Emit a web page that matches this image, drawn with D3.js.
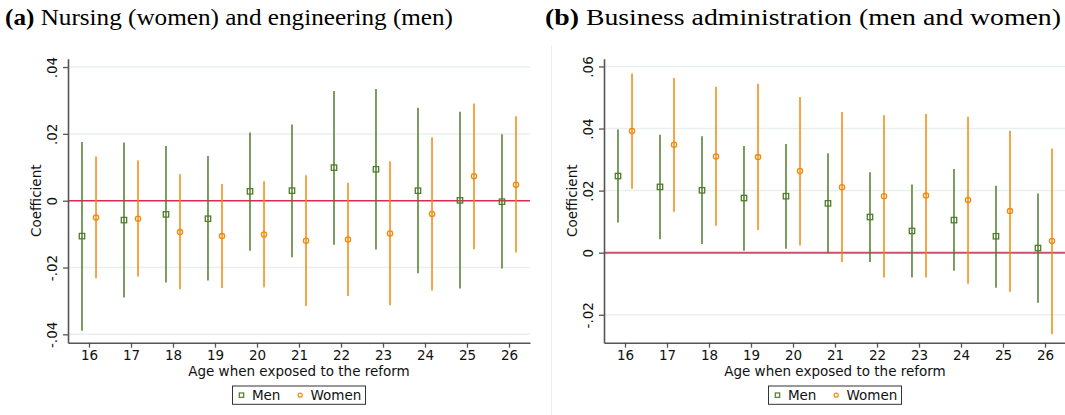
<!DOCTYPE html>
<html>
<head>
<meta charset="utf-8">
<script src="https://cdn.jsdelivr.net/npm/d3@7"></script>
<style>
  html, body { margin: 0; padding: 0; background: #fff; }
  svg { display: block; }
</style>
</head>
<body>
<svg id="chart" width="1065" height="415"></svg>
<script>
// Ages at exposure to the reform (x categories)
const ages = [16, 17, 18, 19, 20, 21, 22, 23, 24, 25, 26];

// Panel (a): nursing (women) and engineering (men)
const aMenCoef   = [-0.0106, -0.0058, -0.0041, -0.0054, 0.0028, 0.0030, 0.0099, 0.0094, 0.0030, 0.0001, -0.0003];
const aMenLo     = [-0.0389, -0.0290, -0.0245, -0.0239, -0.0150, -0.0169, -0.0132, -0.0146, -0.0217, -0.0263, -0.0203];
const aMenHi     = [0.0176, 0.0174, 0.0164, 0.0134, 0.0204, 0.0228, 0.0328, 0.0334, 0.0278, 0.0266, 0.0199];
const aWomenCoef = [-0.0050, -0.0054, -0.0094, -0.0106, -0.0101, -0.0120, -0.0116, -0.0098, -0.0040, 0.0073, 0.0048];
const aWomenLo   = [-0.0232, -0.0227, -0.0265, -0.0261, -0.0259, -0.0315, -0.0285, -0.0313, -0.0269, -0.0145, -0.0155];
const aWomenHi   = [0.0132, 0.0120, 0.0079, 0.0050, 0.0058, 0.0076, 0.0054, 0.0118, 0.0190, 0.0291, 0.0253];

// Panel (b): business administration (men and women)
const bMenCoef   = [0.0247, 0.0212, 0.0201, 0.0176, 0.0182, 0.0159, 0.0115, 0.0070, 0.0105, 0.0053, 0.0015];
const bMenLo     = [0.0097, 0.0043, 0.0028, 0.0006, 0.0013, -0.0002, -0.0030, -0.0080, -0.0058, -0.0113, -0.0161];
const bMenHi     = [0.0397, 0.0380, 0.0375, 0.0344, 0.0350, 0.0320, 0.0259, 0.0220, 0.0270, 0.0216, 0.0191];
const bWomenCoef = [0.0392, 0.0348, 0.0310, 0.0308, 0.0263, 0.0211, 0.0182, 0.0184, 0.0170, 0.0134, 0.0038];
const bWomenLo   = [0.0206, 0.0132, 0.0087, 0.0073, 0.0023, -0.0030, -0.0080, -0.0080, -0.0100, -0.0126, -0.0263];
const bWomenHi   = [0.0577, 0.0563, 0.0535, 0.0544, 0.0502, 0.0453, 0.0443, 0.0447, 0.0438, 0.0393, 0.0336];

// Y tick values and labels
const aYTicks = [-0.04, -0.02, 0, 0.02, 0.04];
const aYTickLabels = ["-.04", "-.02", "0", ".02", ".04"];
const bYTicks = [-0.02, 0, 0.02, 0.04, 0.06];
const bYTickLabels = ["-.02", "0", ".02", ".04", ".06"];

const seriesNames = ["Men", "Women"];

const MEN_COLOR = "#4f7d2c";
const WOMEN_COLOR = "#f0890c";
const SANS = "'DejaVu Sans', sans-serif";

const svg = d3.select("#chart");

// faint border of the second graph region
svg.append("line")
  .attr("x1", 551.5).attr("x2", 551.5).attr("y1", 45).attr("y2", 415)
  .attr("stroke", "#eeeeee").attr("stroke-width", 1);

function rows(coef, lo, hi) {
  return ages.map((a, i) => ({ age: a, coef: coef[i], lo: lo[i], hi: hi[i] }));
}

function drawPanel(opt) {
  const g = svg.append("g");
  const x = d3.scaleLinear().domain([15.5, 26.5]).range([opt.left, opt.right]);
  const y = d3.scaleLinear().domain(opt.yDomain).range([342.7, 58.7]);
  const off = 0.167;

  // title
  const t = g.append("text")
    .attr("x", opt.titleX).attr("y", 25)
    .attr("font-family", "'Liberation Serif', 'Times New Roman', serif")
    .attr("font-size", 24).attr("fill", "#000")
    .attr("textLength", opt.titleWidth).attr("lengthAdjust", "spacingAndGlyphs");
  t.append("tspan").attr("font-weight", "bold").text(opt.titleTag);
  t.append("tspan").text(" " + opt.title);

  // horizontal gridlines
  g.append("g").selectAll("line").data(opt.yTicks).join("line")
    .attr("x1", opt.left).attr("x2", opt.right)
    .attr("y1", d => y(d)).attr("y2", d => y(d))
    .attr("stroke", "#e9efef").attr("stroke-width", 1.5);

  // reference line at zero
  g.append("line")
    .attr("x1", opt.left).attr("x2", opt.right)
    .attr("y1", y(0)).attr("y2", y(0))
    .attr("stroke", opt.zeroColor).attr("stroke-width", opt.zeroWidth);

  // y axis
  const yAxis = g.append("g")
    .attr("transform", `translate(${opt.left},0)`)
    .call(d3.axisLeft(y).tickValues(opt.yTicks).tickSize(5).tickSizeOuter(0)
      .tickFormat((d, i) => opt.yTickLabels[i]));
  yAxis.select(".domain").attr("stroke", "#555").attr("stroke-width", 1.6);
  yAxis.selectAll(".tick line").attr("stroke", "#555").attr("stroke-width", 1.3);
  yAxis.selectAll(".tick text")
    .attr("x", 0).attr("dy", null)
    .attr("transform", "translate(-16,0) rotate(-90)")
    .attr("text-anchor", "middle").attr("dominant-baseline", "central")
    .attr("font-family", SANS).attr("font-size", 13.5).attr("fill", "#111");

  // x axis
  const xAxis = g.append("g")
    .attr("transform", "translate(0,342.7)")
    .call(d3.axisBottom(x).tickValues(ages).tickSize(5).tickSizeOuter(0).tickFormat(d3.format("d")));
  xAxis.select(".domain").attr("stroke", "#555").attr("stroke-width", 1.6);
  xAxis.selectAll(".tick line").attr("stroke", "#555").attr("stroke-width", 1.3);
  xAxis.selectAll(".tick text")
    .attr("y", 8).attr("font-family", SANS).attr("font-size", 13.5).attr("fill", "#111");

  // axis titles
  g.append("text")
    .attr("transform", `translate(${opt.left - 32},200.7) rotate(-90)`)
    .attr("text-anchor", "middle").attr("dominant-baseline", "central")
    .attr("font-family", SANS).attr("font-size", 13.5).attr("fill", "#111")
    .text("Coefficient");
  g.append("text")
    .attr("x", (opt.left + opt.right) / 2).attr("y", 376)
    .attr("text-anchor", "middle")
    .attr("font-family", SANS).attr("font-size", 13.5).attr("fill", "#111")
    .text("Age when exposed to the reform");

  // confidence intervals and point estimates
  const men = rows(opt.men[0], opt.men[1], opt.men[2]);
  const women = rows(opt.women[0], opt.women[1], opt.women[2]);

  const plot = g.append("g");
  plot.selectAll("line.men").data(men).join("line").attr("class", "men")
    .attr("x1", d => x(d.age - off)).attr("x2", d => x(d.age - off))
    .attr("y1", d => y(d.lo)).attr("y2", d => y(d.hi))
    .attr("stroke", MEN_COLOR).attr("stroke-width", 1.5);
  plot.selectAll("line.women").data(women).join("line").attr("class", "women")
    .attr("x1", d => x(d.age + off)).attr("x2", d => x(d.age + off))
    .attr("y1", d => y(d.lo)).attr("y2", d => y(d.hi))
    .attr("stroke", WOMEN_COLOR).attr("stroke-width", 1.5);

  plot.selectAll("rect.men").data(men).join("rect").attr("class", "men")
    .attr("x", d => x(d.age - off) - 2.7).attr("y", d => y(d.coef) - 2.7)
    .attr("width", 5.4).attr("height", 5.4)
    .attr("fill", "none").attr("stroke", MEN_COLOR).attr("stroke-width", 1.3);
  plot.selectAll("circle.women").data(women).join("circle").attr("class", "women")
    .attr("cx", d => x(d.age + off)).attr("cy", d => y(d.coef)).attr("r", 2.6)
    .attr("fill", "none").attr("stroke", WOMEN_COLOR).attr("stroke-width", 1.3);

  // legend
  const cx = (opt.left + opt.right) / 2;
  const lw = 133, lh = 18.3;
  const lx = cx - lw / 2, ly = 386;
  const leg = g.append("g");
  leg.append("rect").attr("x", lx).attr("y", ly).attr("width", lw).attr("height", lh)
    .attr("fill", "#fff").attr("stroke", "#333").attr("stroke-width", 1);
  const my = ly + lh / 2;
  leg.append("rect").attr("x", lx + 9 - 2.2).attr("y", my - 2.2).attr("width", 4.4).attr("height", 4.4)
    .attr("fill", "none").attr("stroke", MEN_COLOR).attr("stroke-width", 1.2);
  leg.append("circle").attr("cx", lx + 67.7).attr("cy", my).attr("r", 2)
    .attr("fill", "none").attr("stroke", WOMEN_COLOR).attr("stroke-width", 1.2);
  leg.append("text").attr("x", lx + 19.4).attr("y", my).attr("dominant-baseline", "central")
    .attr("font-family", SANS).attr("font-size", 13.5).attr("fill", "#111").text(seriesNames[0]);
  leg.append("text").attr("x", lx + 78).attr("y", my).attr("dominant-baseline", "central")
    .attr("font-family", SANS).attr("font-size", 13.5).attr("fill", "#111").text(seriesNames[1]);
}

drawPanel({
  left: 68, right: 530, titleX: 5, titleWidth: 448,
  titleTag: "(a)", title: "Nursing (women) and engineering (men)",
  yDomain: [-0.0425, 0.0425], yTicks: aYTicks, yTickLabels: aYTickLabels,
  zeroColor: "#dc2a55", zeroWidth: 1.5,
  men: [aMenCoef, aMenLo, aMenHi], women: [aWomenCoef, aWomenLo, aWomenHi]
});

drawPanel({
  left: 604, right: 1066, titleX: 545, titleWidth: 516,
  titleTag: "(b)", title: "Business administration (men and women)",
  yDomain: [-0.029, 0.0625], yTicks: bYTicks, yTickLabels: bYTickLabels,
  zeroColor: "#cf4f6f", zeroWidth: 2,
  men: [bMenCoef, bMenLo, bMenHi], women: [bWomenCoef, bWomenLo, bWomenHi]
});
</script>
</body>
</html>
